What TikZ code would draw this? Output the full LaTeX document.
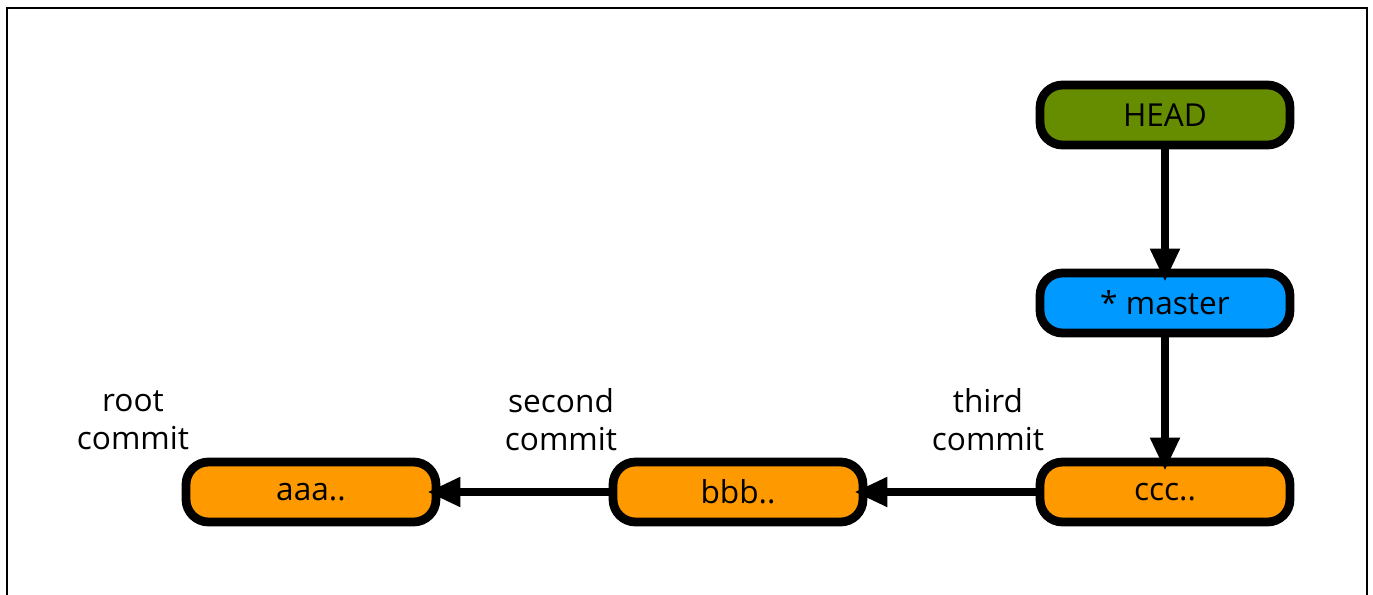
\documentclass[tikz,border=0pt]{standalone}
\usepackage{fontspec}
\setmainfont{Open Sans}
\usetikzlibrary{arrows.meta}

\definecolor{headgreen}{RGB}{102,140,0}
\definecolor{branchblue}{RGB}{0,153,255}
\definecolor{commitorange}{RGB}{255,153,0}

\begin{document}
\begin{tikzpicture}[x=0.02cm, y=-0.02cm,
  box/.style={draw, line width=5pt, rounded corners=0.45cm,
    minimum width=5.0cm, minimum height=1.2cm,
    font=\fontsize{18}{21.5}\selectfont},
  link/.style={line width=4.5pt, -{Triangle[length=0.66cm,width=0.56cm]},
    shorten >=-0.26cm},
  note/.style={align=center, font=\fontsize{18}{21.5}\selectfont}]
  \useasboundingbox (0, 0) rectangle (1373, 595);

  % frame, open at the bottom
  \draw[line width=1.2pt] (7, 620) -- (7, 8) -- (1367, 8) -- (1367, 620);

  \node[box, fill=headgreen] (head) at (1165, 115) {HEAD};
  \node[box, fill=branchblue] (master) at (1165, 303) {* master};
  \node[box, fill=commitorange] (ccc) at (1165, 492) {ccc..};
  \node[box, fill=commitorange] (bbb) at (738, 492) {bbb..};
  \node[box, fill=commitorange] (aaa) at (311, 492) {aaa..};

  \draw[link] (head) -- (master);
  \draw[link] (master) -- (ccc);
  \draw[link] (ccc) -- (bbb);
  \draw[link] (bbb) -- (aaa);

  \node[note] (rootlbl) at (133, 420) {root\\commit};
  \node[note] (secondlbl) at (561, 420) {second\\commit};
  \node[note] (thirdlbl) at (988, 420) {third\\commit};

\end{tikzpicture}
\end{document}
